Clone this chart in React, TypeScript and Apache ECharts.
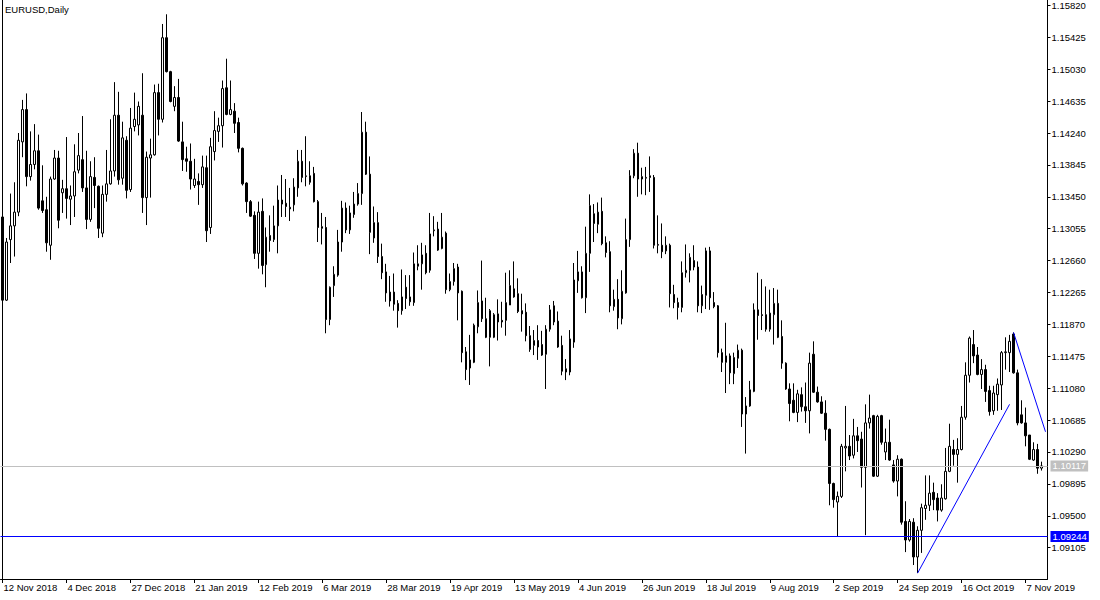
import React, { useEffect, useRef } from "react";
import * as echarts from "echarts";

const chartTitle = "EURUSD,Daily";
const firstDay = "2018-11-12";
const holidays = ["2018-12-25", "2019-01-01"];
const slotCount = 262;
const labelEvery = 16;
const monthNames = ["Jan", "Feb", "Mar", "Apr", "May", "Jun", "Jul", "Aug", "Sep", "Oct", "Nov", "Dec"];

const opens = [
  1.1320, 1.1217, 1.1292, 1.1309, 1.1326, 1.1413, 1.1453, 1.1370, 1.1385, 1.1402,
  1.1340, 1.1329, 1.1285, 1.1367, 1.1393, 1.1350, 1.1355, 1.1342, 1.1346, 1.1378,
  1.1391, 1.1356, 1.1317, 1.1369, 1.1358, 1.1300, 1.1348, 1.1361, 1.1377, 1.1446,
  1.1368, 1.1415, 1.1354, 1.1432, 1.1434, 1.1446, 1.1344, 1.1393, 1.1397, 1.1474,
  1.1441, 1.1542, 1.1500, 1.1457, 1.1468, 1.1413, 1.1392, 1.1389, 1.1359, 1.1364,
  1.1360, 1.1381, 1.1307, 1.1401, 1.1426, 1.1433, 1.1480, 1.1447, 1.1451, 1.1437,
  1.1405, 1.1362, 1.1339, 1.1322, 1.1275, 1.1327, 1.1261, 1.1297, 1.1292, 1.1309,
  1.1341, 1.1337, 1.1332, 1.1335, 1.1356, 1.1389, 1.1370, 1.1371, 1.1374, 1.1339,
  1.1308, 1.1307, 1.1193, 1.1235, 1.1248, 1.1289, 1.1331, 1.1304, 1.1323, 1.1336,
  1.1349, 1.1425, 1.1373, 1.1294, 1.1313, 1.1271, 1.1252, 1.1227, 1.1227, 1.1213,
  1.1204, 1.1233, 1.1221, 1.1214, 1.1259, 1.1262, 1.1275, 1.1254, 1.1303, 1.1305,
  1.1281, 1.1300, 1.1230, 1.1240, 1.1258, 1.1228, 1.1153, 1.1133, 1.1140, 1.1184,
  1.1216, 1.1194, 1.1171, 1.1171, 1.1200, 1.1192, 1.1192, 1.1211, 1.1231, 1.1225,
  1.1204, 1.1202, 1.1173, 1.1161, 1.1167, 1.1162, 1.1150, 1.1181, 1.1210, 1.1191,
  1.1161, 1.1132, 1.1128, 1.1165, 1.1241, 1.1252, 1.1220, 1.1275, 1.1324, 1.1311,
  1.1327, 1.1288, 1.1277, 1.1209, 1.1218, 1.1194, 1.1226, 1.1292, 1.1371, 1.1399,
  1.1367, 1.1368, 1.1371, 1.1369, 1.1285, 1.1285, 1.1278, 1.1285, 1.1224, 1.1214,
  1.1208, 1.1251, 1.1254, 1.1266, 1.1258, 1.1210, 1.1223, 1.1278, 1.1214, 1.1210,
  1.1152, 1.1140, 1.1148, 1.1126, 1.1145, 1.1155, 1.1076, 1.1086, 1.1104, 1.1205,
  1.1199, 1.1199, 1.1181, 1.1199, 1.1213, 1.1172, 1.1139, 1.1107, 1.1093, 1.1078,
  1.1100, 1.1085, 1.1080, 1.1150, 1.1103, 1.1091, 1.1077, 1.1057, 1.0990, 1.0967,
  1.0974, 1.1034, 1.1036, 1.1025, 1.1049, 1.1045, 1.1010, 1.1065, 1.1074, 1.0999,
  1.1074, 1.1029, 1.1041, 1.1013, 1.0993, 1.1020, 1.0943, 1.0920, 1.0942, 1.0899,
  1.0932, 1.0959, 1.0963, 1.0979, 1.0972, 1.0957, 1.0971, 1.1005, 1.1032, 1.1026,
  1.1032, 1.1072, 1.1124, 1.1162, 1.1149, 1.1125, 1.1131, 1.1105, 1.1080, 1.1100,
  1.1112, 1.1152, 1.1152, 1.1175, 1.1127, 1.1075, 1.1065, 1.1050, 1.1019, 1.1032, 1.1009,
];

const highs = [
  1.1322, 1.1294, 1.1349, 1.1363, 1.1424, 1.1465, 1.1473, 1.1426, 1.1435, 1.1422,
  1.1384, 1.1345, 1.1370, 1.1403, 1.1402, 1.1366, 1.1419, 1.1359, 1.1410, 1.1424,
  1.1445, 1.1402, 1.1389, 1.1394, 1.1359, 1.1359, 1.1403, 1.1441, 1.1487, 1.1475,
  1.1438, 1.1420, 1.1455, 1.1474, 1.1463, 1.1498, 1.1401, 1.1417, 1.1484, 1.1485,
  1.1559, 1.1571, 1.1501, 1.1482, 1.1491, 1.1438, 1.1407, 1.1411, 1.1392, 1.1374,
  1.1396, 1.1396, 1.1418, 1.1451, 1.1443, 1.1489, 1.1516, 1.1489, 1.1461, 1.1443,
  1.1406, 1.1363, 1.1341, 1.1327, 1.1339, 1.1343, 1.1307, 1.1322, 1.1334, 1.1359,
  1.1372, 1.1367, 1.1356, 1.1368, 1.1403, 1.1403, 1.1420, 1.1389, 1.1382, 1.1341,
  1.1325, 1.1320, 1.1234, 1.1259, 1.1304, 1.1340, 1.1338, 1.1334, 1.1351, 1.1362,
  1.1450, 1.1438, 1.1395, 1.1333, 1.1326, 1.1287, 1.1262, 1.1247, 1.1250, 1.1217,
  1.1255, 1.1248, 1.1248, 1.1276, 1.1285, 1.1288, 1.1285, 1.1325, 1.1321, 1.1314,
  1.1325, 1.1302, 1.1250, 1.1263, 1.1262, 1.1229, 1.1159, 1.1174, 1.1188, 1.1229,
  1.1266, 1.1220, 1.1206, 1.1201, 1.1218, 1.1215, 1.1251, 1.1254, 1.1265, 1.1244,
  1.1225, 1.1213, 1.1185, 1.1180, 1.1186, 1.1179, 1.1186, 1.1211, 1.1216, 1.1203,
  1.1173, 1.1144, 1.1180, 1.1263, 1.1278, 1.1259, 1.1308, 1.1348, 1.1336, 1.1338,
  1.1344, 1.1296, 1.1290, 1.1230, 1.1243, 1.1254, 1.1318, 1.1378, 1.1404, 1.1412,
  1.1381, 1.1382, 1.1395, 1.1372, 1.1322, 1.1312, 1.1296, 1.1287, 1.1236, 1.1220,
  1.1265, 1.1286, 1.1275, 1.1285, 1.1265, 1.1235, 1.1282, 1.1283, 1.1227, 1.1211,
  1.1157, 1.1189, 1.1151, 1.1152, 1.1162, 1.1157, 1.1097, 1.1117, 1.1213, 1.1251,
  1.1243, 1.1234, 1.1230, 1.1232, 1.1230, 1.1192, 1.1140, 1.1114, 1.1114, 1.1106,
  1.1109, 1.1115, 1.1152, 1.1166, 1.1110, 1.1098, 1.1093, 1.1058, 1.0991, 1.0980,
  1.1039, 1.1086, 1.1050, 1.1070, 1.1060, 1.1054, 1.1088, 1.1100, 1.1075, 1.1075,
  1.1075, 1.1058, 1.1069, 1.1019, 1.1025, 1.1021, 1.0968, 1.0946, 1.0947, 1.0937,
  1.0965, 1.1000, 1.1000, 1.0991, 1.0978, 1.0989, 1.1034, 1.1064, 1.1044, 1.1046,
  1.1086, 1.1140, 1.1172, 1.1180, 1.1159, 1.1144, 1.1137, 1.1111, 1.1111, 1.1120,
  1.1154, 1.1171, 1.1174, 1.1177, 1.1131, 1.1093, 1.1084, 1.1050, 1.1041, 1.1039, 1.1017,
];

const lows = [
  1.1216, 1.1216, 1.1263, 1.1271, 1.1321, 1.1394, 1.1358, 1.1365, 1.1379, 1.1329,
  1.1325, 1.1277, 1.1267, 1.1366, 1.1306, 1.1325, 1.1318, 1.1310, 1.1320, 1.1374,
  1.1351, 1.1305, 1.1314, 1.1331, 1.1294, 1.1295, 1.1339, 1.1360, 1.1370, 1.1360,
  1.1360, 1.1343, 1.1351, 1.1426, 1.1421, 1.1325, 1.1310, 1.1344, 1.1396, 1.1421,
  1.1437, 1.1499, 1.1462, 1.1451, 1.1413, 1.1377, 1.1376, 1.1354, 1.1356, 1.1335,
  1.1356, 1.1289, 1.1299, 1.1390, 1.1413, 1.1406, 1.1446, 1.1446, 1.1424, 1.1400,
  1.1359, 1.1325, 1.1320, 1.1268, 1.1256, 1.1249, 1.1233, 1.1277, 1.1289, 1.1275,
  1.1320, 1.1320, 1.1315, 1.1327, 1.1345, 1.1363, 1.1358, 1.1360, 1.1338, 1.1289,
  1.1286, 1.1176, 1.1186, 1.1221, 1.1246, 1.1277, 1.1300, 1.1299, 1.1319, 1.1334,
  1.1335, 1.1372, 1.1274, 1.1288, 1.1263, 1.1243, 1.1215, 1.1209, 1.1204, 1.1183,
  1.1199, 1.1206, 1.1210, 1.1210, 1.1254, 1.1230, 1.1249, 1.1251, 1.1296, 1.1278,
  1.1280, 1.1225, 1.1228, 1.1235, 1.1192, 1.1140, 1.1118, 1.1112, 1.1139, 1.1176,
  1.1190, 1.1170, 1.1135, 1.1170, 1.1167, 1.1183, 1.1173, 1.1211, 1.1220, 1.1201,
  1.1178, 1.1166, 1.1153, 1.1149, 1.1143, 1.1148, 1.1107, 1.1178, 1.1186, 1.1158,
  1.1124, 1.1118, 1.1124, 1.1158, 1.1226, 1.1219, 1.1201, 1.1252, 1.1289, 1.1300,
  1.1285, 1.1270, 1.1202, 1.1204, 1.1181, 1.1187, 1.1225, 1.1283, 1.1368, 1.1345,
  1.1348, 1.1347, 1.1351, 1.1281, 1.1275, 1.1269, 1.1274, 1.1208, 1.1207, 1.1193,
  1.1202, 1.1245, 1.1239, 1.1254, 1.1202, 1.1201, 1.1206, 1.1205, 1.1207, 1.1146,
  1.1128, 1.1102, 1.1113, 1.1113, 1.1133, 1.1060, 1.1027, 1.1085, 1.1103, 1.1168,
  1.1180, 1.1178, 1.1178, 1.1162, 1.1170, 1.1132, 1.1106, 1.1067, 1.1077, 1.1066,
  1.1079, 1.1065, 1.1052, 1.1102, 1.1090, 1.1076, 1.1043, 1.0963, 1.0960, 1.0924,
  1.0972, 1.1005, 1.1019, 1.1021, 1.1029, 1.0985, 1.0926, 1.1058, 1.0998, 1.0998,
  1.1038, 1.1019, 1.1018, 1.0991, 1.0974, 1.0939, 1.0905, 1.0918, 1.0889, 1.0879,
  1.0904, 1.0945, 1.0956, 1.0957, 1.0943, 1.0955, 1.0970, 1.1004, 1.1012, 1.0991,
  1.1031, 1.1069, 1.1115, 1.1139, 1.1124, 1.1107, 1.1091, 1.1074, 1.1075, 1.1080,
  1.1081, 1.1131, 1.1128, 1.1126, 1.1062, 1.1064, 1.1036, 1.1019, 1.1018, 1.1002, 1.1006,
];

const closes = [
  1.1217, 1.1289, 1.1309, 1.1326, 1.1415, 1.1453, 1.1370, 1.1385, 1.1402, 1.1331,
  1.1328, 1.1288, 1.1367, 1.1393, 1.1316, 1.1355, 1.1343, 1.1346, 1.1376, 1.1396,
  1.1356, 1.1317, 1.1370, 1.1359, 1.1306, 1.1348, 1.1361, 1.1377, 1.1446, 1.1366,
  1.1418, 1.1353, 1.1430, 1.1441, 1.1457, 1.1344, 1.1394, 1.1397, 1.1474, 1.1441,
  1.1542, 1.1500, 1.1463, 1.1468, 1.1414, 1.1391, 1.1389, 1.1367, 1.1367, 1.1360,
  1.1382, 1.1303, 1.1407, 1.1427, 1.1433, 1.1479, 1.1447, 1.1453, 1.1436, 1.1405,
  1.1361, 1.1339, 1.1321, 1.1275, 1.1326, 1.1260, 1.1295, 1.1291, 1.1309, 1.1341,
  1.1336, 1.1333, 1.1330, 1.1357, 1.1389, 1.1369, 1.1371, 1.1363, 1.1339, 1.1307,
  1.1306, 1.1193, 1.1233, 1.1249, 1.1289, 1.1331, 1.1304, 1.1325, 1.1336, 1.1349,
  1.1425, 1.1373, 1.1301, 1.1313, 1.1271, 1.1251, 1.1226, 1.1216, 1.1212, 1.1204,
  1.1221, 1.1219, 1.1215, 1.1262, 1.1262, 1.1273, 1.1251, 1.1299, 1.1304, 1.1279,
  1.1295, 1.1230, 1.1240, 1.1256, 1.1226, 1.1152, 1.1131, 1.1143, 1.1186, 1.1214,
  1.1194, 1.1171, 1.1204, 1.1199, 1.1190, 1.1190, 1.1214, 1.1235, 1.1221, 1.1203,
  1.1200, 1.1173, 1.1156, 1.1167, 1.1159, 1.1149, 1.1181, 1.1205, 1.1190, 1.1159,
  1.1129, 1.1128, 1.1169, 1.1242, 1.1252, 1.1220, 1.1275, 1.1334, 1.1312, 1.1326,
  1.1287, 1.1276, 1.1210, 1.1218, 1.1195, 1.1228, 1.1292, 1.1371, 1.1399, 1.1367,
  1.1370, 1.1369, 1.1369, 1.1285, 1.1286, 1.1277, 1.1285, 1.1225, 1.1214, 1.1208,
  1.1251, 1.1254, 1.1270, 1.1258, 1.1210, 1.1224, 1.1278, 1.1220, 1.1209, 1.1152,
  1.1140, 1.1148, 1.1127, 1.1146, 1.1155, 1.1076, 1.1086, 1.1106, 1.1205, 1.1198,
  1.1198, 1.1181, 1.1201, 1.1213, 1.1171, 1.1139, 1.1107, 1.1089, 1.1078, 1.1101,
  1.1085, 1.1080, 1.1139, 1.1103, 1.1091, 1.1077, 1.1057, 1.0990, 1.0970, 1.0974,
  1.1036, 1.1036, 1.1024, 1.1049, 1.1043, 1.1010, 1.1065, 1.1071, 1.0999, 1.1073,
  1.1041, 1.1041, 1.1019, 1.0993, 1.1020, 1.0942, 1.0920, 1.0943, 1.0899, 1.0932,
  1.0960, 1.0963, 1.0978, 1.0970, 1.0957, 1.0972, 1.1005, 1.1036, 1.1026, 1.1032,
  1.1072, 1.1124, 1.1170, 1.1148, 1.1125, 1.1131, 1.1104, 1.1079, 1.1102, 1.1113,
  1.1152, 1.1153, 1.1166, 1.1127, 1.1065, 1.1065, 1.1049, 1.1020, 1.1032, 1.1009, 1.10117,
];

const yTickValues = [
  1.1582, 1.15425, 1.1503, 1.14635, 1.1424, 1.13845, 1.1345, 1.13055, 1.1266,
  1.12265, 1.1187, 1.11475, 1.1108, 1.10685, 1.1029, 1.09895, 1.095, 1.09105,
];
const yMin = 1.08717;
const yMax = 1.15887;
const currentPrice = 1.10117;
const levelPrice = 1.09244;
// trend lines: [bar index, price]
const trendUp = [[229, 1.0879], [252, 1.1088]];
const trendDown = [[253, 1.1177], [261, 1.1054]];

function buildDates(): string[] {
  const out: string[] = [];
  const d = new Date(firstDay + "T00:00:00Z");
  while (out.length < slotCount) {
    const wd = d.getUTCDay();
    const iso = d.toISOString().slice(0, 10);
    if (wd !== 0 && wd !== 6 && holidays.indexOf(iso) < 0) {
      out.push(`${d.getUTCDate()} ${monthNames[d.getUTCMonth()]} ${d.getUTCFullYear()}`);
    }
    d.setUTCDate(d.getUTCDate() + 1);
  }
  return out;
}

const FONT = "Liberation Sans";

export default function App() {
  const ref = useRef<HTMLDivElement>(null);
  useEffect(() => {
    if (!ref.current) return;
    const chart = echarts.init(ref.current, undefined, { renderer: "svg" });
    const dates = buildDates();
    const candles = opens.map((o, i) => [o, closes[i], lows[i], highs[i]]);
    const showEvery = (i: number) => i % labelEvery === 0;
    const boxLabel = (text: string, bg: string) => ({
      show: true,
      position: "end",
      distance: 3,
      formatter: text,
      backgroundColor: bg,
      color: "#ffffff",
      fontSize: 9.5,
      fontFamily: FONT,
      padding: [1, 2, 0, 2],
      lineHeight: 10,
    });

    chart.setOption({
      animation: false,
      backgroundColor: "#ffffff",
      grid: { left: 0.5, top: 0, width: 1047, height: 579, containLabel: false },
      xAxis: {
        type: "category",
        data: dates,
        boundaryGap: true,
        axisLine: { show: true, lineStyle: { color: "#000", width: 1 } },
        axisTick: {
          show: true,
          interval: (i: number) => showEvery(i),
          alignWithLabel: true,
          length: 4,
          lineStyle: { color: "#000" },
        },
        axisLabel: {
          interval: (i: number) => showEvery(i),
          align: "left",
          margin: 3,
          fontSize: 9.5,
          fontFamily: FONT,
          color: "#000",
          padding: [0, 0, 0, 1],
        },
        splitLine: { show: false },
      },
      yAxis: {
        type: "value",
        position: "right",
        min: yMin,
        max: yMax,
        axisLine: { show: true, onZero: false, lineStyle: { color: "#000", width: 1 } },
        axisTick: { show: true, length: 3, customValues: yTickValues, lineStyle: { color: "#000" } },
        axisLabel: {
          customValues: yTickValues,
          formatter: (v: number) => v.toFixed(5),
          margin: 4,
          fontSize: 9.5,
          fontFamily: FONT,
          color: "#000",
        },
        splitLine: { show: false },
      },
      graphic: [
        {
          type: "text",
          left: 5,
          top: 4,
          style: { text: chartTitle, font: `9.5px "${FONT}"`, fill: "#000" },
        },
        {
          type: "line",
          shape: { x1: 2.5, y1: 0, x2: 2.5, y2: 579 },
          style: { stroke: "#000", lineWidth: 1 },
        },
      ],
      series: [
        {
          type: "candlestick",
          data: candles,
          barWidth: 2,
          itemStyle: {
            color: "#ffffff",
            color0: "#000000",
            borderColor: "#000000",
            borderColor0: "#000000",
            borderColorDoji: "#000000",
            borderWidth: 1,
          },
          silent: true,
          markLine: {
            silent: true,
            symbol: ["none", "none"],
            precision: 5,
            animation: false,
            data: [
              {
                yAxis: currentPrice,
                lineStyle: { color: "#c0c0c0", width: 1, type: "solid" },
                label: boxLabel(currentPrice.toFixed(5), "#c0c0c0"),
              },
              {
                yAxis: levelPrice,
                lineStyle: { color: "#0000ff", width: 1, type: "solid" },
                label: boxLabel(levelPrice.toFixed(5), "#0000ff"),
              },
              [
                { coord: [dates[trendUp[0][0]], trendUp[0][1]], lineStyle: { color: "#0000ff", width: 1, type: "solid" }, label: { show: false } },
                { coord: [dates[trendUp[1][0]], trendUp[1][1]] },
              ],
              [
                { coord: [dates[trendDown[0][0]], trendDown[0][1]], lineStyle: { color: "#0000ff", width: 1, type: "solid" }, label: { show: false } },
                { coord: [dates[trendDown[1][0]], trendDown[1][1]] },
              ],
            ],
          },
        },
      ],
    });
    return () => chart.dispose();
  }, []);
  return (
    <div
      ref={ref}
      style={{ position: "fixed", left: 0, top: 0, width: 1100, height: 600, background: "#fff" }}
    />
  );
}
